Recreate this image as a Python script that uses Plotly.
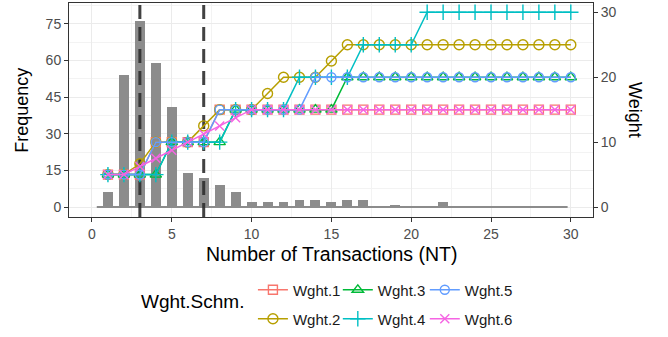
import plotly.graph_objects as go

# ---------------- data ----------------
nt = list(range(1, 31))
frequency = [6, 54, 76, 59, 41, 14, 12, 9, 6, 2, 2, 2, 3, 3, 2, 3, 3, 0, 1, 0,
             0, 2, 0, 0, 0, 0, 0, 0, 0, 0]
baseline_range = [0.3, 29.8]
nt_thresholds = [3, 7]

wght_1 = [5, 5, 5, 10, 10, 10, 10] + [15] * 23
wght_2 = [5, 5, 6.67, 10, 10, 10, 12.5, 15, 15, 15, 17.5, 20, 20, 20, 22.5] + [25] * 15
wght_3 = [5, 5, 5, 5, 10, 10, 10, 10] + [15] * 7 + [20] * 15
wght_4 = [5, 5, 5, 5, 10, 10, 10, 10, 15, 15, 15, 15, 20, 20, 20, 20, 25, 25, 25, 25] + [30] * 10
wght_5 = [5, 5, 5, 10, 10, 10, 10, 15, 15, 15, 15, 15, 15] + [20] * 17
wght_6 = [5, 5, 6.25, 7.5, 8.75, 10, 11.25, 12.5, 13.75] + [15] * 21

series_names = ["Wght.1", "Wght.2", "Wght.3", "Wght.4", "Wght.5", "Wght.6"]
series_values = [wght_1, wght_2, wght_3, wght_4, wght_5, wght_6]

freq_ticks = [0, 15, 30, 45, 60, 75]
weight_ticks = [0, 10, 20, 30]
x_ticks = [0, 5, 10, 15, 20, 25, 30]

# ---------------- style ----------------
colors = ["#F8766D", "#B79F00", "#00BA38", "#00BFC4", "#619CFF", "#F564E3"]
symbols = ["square-open", "circle-open", "triangle-up-open", "cross-thin-open",
           "circle-open", "x-thin-open"]
sizes = [9, 10, 10, 11, 9, 9]
# legend grid: 3 columns x 2 rows (column-major order as in the reference)
legend_cols = [0.351, 0.351, 0.513, 0.513, 0.679, 0.679]
legend_rows = [-0.335, -0.47, -0.335, -0.47, -0.335, -0.47]

freq_range = [-4.08, 83.56]
weight_range = [-1.533, 31.43]
x_range = [-1.44, 31.39]

FONT = "Liberation Sans, Arial, sans-serif"

fig = go.Figure()

fig.add_trace(go.Bar(x=nt, y=frequency, width=0.62, marker_color="#8c8c8c",
                     marker_line_width=0, showlegend=False, yaxis="y"))
fig.add_trace(go.Scatter(x=baseline_range, y=[0, 0], mode="lines",
                         line=dict(color="#8c8c8c", width=2), showlegend=False, yaxis="y"))
for t in nt_thresholds:
    fig.add_trace(go.Scatter(x=[t, t], y=freq_range, mode="lines",
                             line=dict(color="rgba(45,45,45,0.9)", width=3, dash="14px,8px"),
                             showlegend=False, yaxis="y", cliponaxis=True))

legend_layouts = {}
for i, (name, vals, c, s, sz) in enumerate(zip(series_names, series_values, colors, symbols, sizes)):
    lg = "legend" if i == 0 else f"legend{i + 1}"
    fig.add_trace(go.Scatter(
        x=nt, y=vals, name=name, mode="lines+markers", yaxis="y2", legend=lg,
        line=dict(color=c, width=1.5),
        marker=dict(symbol=s, size=sz, color=c, line=dict(color=c, width=1.4)),
    ))
    legend_layouts[lg] = dict(
        orientation="h", x=legend_cols[i], xanchor="left", y=legend_rows[i], yanchor="middle",
        font=dict(family=FONT, size=15, color="#1a1a1a"),
        bgcolor="rgba(0,0,0,0)", itemclick=False, itemdoubleclick=False)

axis_common = dict(
    ticks="outside", ticklen=4, tickcolor="#333333", tickwidth=1,
    showline=True, linecolor="#333333", linewidth=1,
    zeroline=False, tickfont=dict(family=FONT, size=14, color="#4d4d4d"),
)

fig.update_layout(
    width=668, height=337,
    margin=dict(l=69, r=75, t=3, b=119),
    paper_bgcolor="white", plot_bgcolor="white",
    font=dict(family=FONT),
    bargap=0,
    xaxis=dict(range=x_range, tickvals=x_ticks, mirror=True,
               showgrid=True, gridcolor="#ebebeb", gridwidth=1,
               minor=dict(dtick=2.5, tick0=0, showgrid=True, gridcolor="#f3f3f3", gridwidth=0.6),
               **axis_common),
    yaxis=dict(range=freq_range, tickvals=freq_ticks, mirror=True,
               showgrid=True, gridcolor="#ebebeb", gridwidth=1,
               minor=dict(dtick=7.5, tick0=0, showgrid=True, gridcolor="#f3f3f3", gridwidth=0.6),
               **axis_common),
    yaxis2=dict(range=weight_range, tickvals=weight_ticks, overlaying="y", side="right",
                showgrid=False, **axis_common),
    annotations=[
        dict(text="Number of Transactions (NT)", x=0.5, xref="paper", y=-0.175, yref="paper",
             xanchor="center", yanchor="middle", showarrow=False,
             font=dict(family=FONT, size=19.5, color="black")),
        dict(text="Frequency", x=-0.09, xref="paper", y=0.5, yref="paper", textangle=-90,
             xanchor="center", yanchor="middle", showarrow=False,
             font=dict(family=FONT, size=18, color="black")),
        dict(text="Weight", x=1.08, xref="paper", y=0.5, yref="paper", textangle=90,
             xanchor="center", yanchor="middle", showarrow=False,
             font=dict(family=FONT, size=18, color="black")),
        dict(text="Wght.Schm.", x=0.235, xref="paper", y=-0.395, yref="paper",
             xanchor="center", yanchor="middle", showarrow=False,
             font=dict(family=FONT, size=19, color="black")),
    ],
)
fig.update_layout(**legend_layouts)

fig.write_html("out.html", config={"displayModeBar": False},
               post_script="document.body.style.margin='0px';")
